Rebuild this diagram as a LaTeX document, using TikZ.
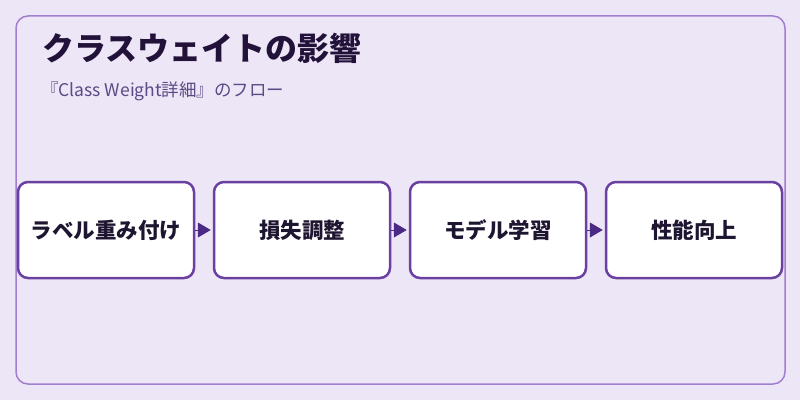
\documentclass[tikz,border=0pt]{standalone}
\usepackage{fontspec}
\setmainfont{Noto Sans CJK JP}
\usetikzlibrary{arrows.meta}
\definecolor{bgpurple}{HTML}{EDE6F6}
\definecolor{framepurple}{HTML}{A07FD0}
\definecolor{boxpurple}{HTML}{6A40A0}
\definecolor{tippurple}{HTML}{4B2A85}
\definecolor{titleink}{HTML}{22123A}
\definecolor{subink}{HTML}{5B4A85}
\definecolor{boxink}{HTML}{1E1530}

\begin{document}
\begin{tikzpicture}
	[%
	x=1pt, y=1pt,%
	frame/.style ={draw=framepurple,	line width=1.5pt,	rounded corners=12pt},%
	stage/.style ={rectangle,	draw=boxpurple,	fill=white,	line width=2.5pt,	rounded corners=10pt,	inner sep=0pt,	minimum width=176pt,	minimum height=96pt,	text=boxink,	font=\fontsize{21.5}{26}\selectfont\bfseries},%
	flow/.style  ={-{Triangle[length=13pt,width=15pt]},	draw=tippurple,	fill=tippurple,	line width=1pt,	shorten >=2pt},%
	]

	\useasboundingbox (0,0) rectangle (800,400);
	\fill [bgpurple] (0,0) rectangle (800,400);
	\draw [frame] (16,16) rectangle (785,384);

	% titles
	\node (title) at (42,339) [anchor=base west, inner sep=0pt, text=titleink, font=\fontsize{32}{38}\selectfont\bfseries] {クラスウェイトの影響};
	\node (subtitle) at (41,304) [anchor=base west, inner sep=0pt, text=subink, font=\fontsize{17.5}{21}\selectfont] {『Class Weight詳細』のフロー};

	% nodes
	\node (stage0) at (106,170) [stage] {ラベル重み付け};
	\node (stage1) at (302,170) [stage] {損失調整};
	\node (stage2) at (498,170) [stage] {モデル学習};
	\node (stage3) at (694,170) [stage] {性能向上};

	% interconnections
	\foreach \i [count=\j] in {0,1,2} \draw [flow] (stage\i) -- (stage\j);

\end{tikzpicture}
\end{document}
